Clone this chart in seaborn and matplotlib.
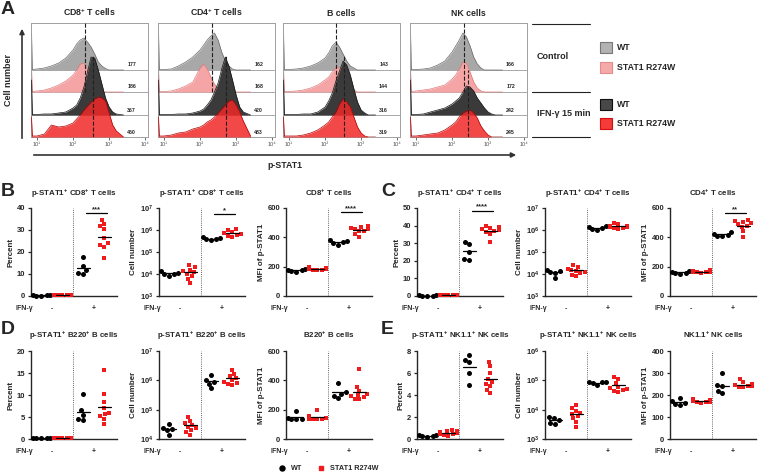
import numpy as np
import pandas as pd
import matplotlib
matplotlib.use('Agg')
import matplotlib.pyplot as plt
import seaborn as sns
from matplotlib.patches import Rectangle

sns.set_style('ticks')
plt.rcParams['font.family'] = ['Liberation Sans', 'DejaVu Sans']
plt.rcParams['font.weight'] = 'bold'
plt.rcParams['axes.titleweight'] = 'bold'
plt.rcParams['axes.labelweight'] = 'bold'
plt.rcParams['mathtext.fontset'] = 'custom'
plt.rcParams['mathtext.rm'] = 'Liberation Sans:bold'
plt.rcParams['mathtext.bf'] = 'Liberation Sans:bold'
plt.rcParams['mathtext.it'] = 'Liberation Sans:bold'

W, H = 760, 474

# ---------------- panel A: p-STAT1 histograms (heights in px) ----------------
hist_x = [7, 7.4, 10, 16, 25, 40, 63, 100, 126, 158, 200, 251, 316, 398, 501, 631, 794, 1000, 1259, 1585, 2512]
hist_cells = ['CD8$^{+}$ T cells', 'CD4$^{+}$ T cells', 'B cells', 'NK cells']

# rows: WT control, R274W control, WT IFN-g, R274W IFN-g
hist_cd8 = [
    [40, 0.5, 1, 2, 4, 7, 12, 20, 26, 30, 32, 28, 23, 16, 8, 4, 1.5, 0, 0, 0, 0],
    [25, 0.5, 1, 2, 4, 7, 11, 17, 22, 28, 29, 22, 13, 5, 1, 0, 0, 0, 0, 0, 0],
    [35, 0.5, 0.5, 1, 1, 2, 3, 7, 10, 17, 28, 43, 58, 57, 45, 31, 17, 8, 3, 1, 0],
    [20, 1, 1, 3, 12, 10, 11, 14, 18, 22, 27, 31, 35, 38, 40, 39, 36, 24, 12, 6, 0],
]
hist_cd4 = [
    [40, 0.5, 0.5, 1, 4, 8, 13, 20, 25, 30, 34, 37, 30, 18, 9, 4, 1, 0, 0, 0, 0],
    [25, 0.5, 0.5, 1, 3, 6, 10, 24, 28, 23, 15, 8, 3, 1, 0, 0, 0, 0, 0, 0, 0],
    [35, 0.5, 0.5, 0.5, 1, 1, 2, 4, 6, 10, 15, 23, 32, 46, 58, 49, 35, 20, 8, 3, 0],
    [20, 1, 1, 2, 4, 5, 8, 10, 12, 15, 17, 20, 24, 28, 32, 36, 37, 32, 25, 16, 1],
]
hist_b = [
    [40, 0.5, 0.5, 1, 2, 4, 7, 12, 17, 24, 28, 23, 16, 9, 4, 2, 0, 0, 0, 0, 0],
    [25, 0.5, 0.5, 1, 2, 4, 7, 12, 15, 20, 24, 25, 22, 13, 7, 2, 0, 0, 0, 0, 0],
    [35, 0.5, 0.5, 0.5, 1, 1, 3, 8, 14, 22, 34, 44, 54, 50, 40, 26, 13, 5, 2, 0, 0],
    [20, 1, 1, 1, 2, 4, 7, 12, 15, 20, 25, 33, 38, 35, 30, 20, 10, 4, 1, 0, 0],
]
hist_nk = [
    [40, 0.5, 0.5, 1, 2, 5, 9, 18, 24, 30, 37, 33, 24, 13, 6, 2, 0, 0, 0, 0, 0],
    [25, 0.5, 1, 2, 3, 5, 7, 13, 17, 23, 30, 29, 20, 10, 4, 1, 0, 0, 0, 0, 0],
    [35, 0.5, 0.5, 1, 3, 5, 7, 11, 14, 17, 23, 29, 28, 24, 17, 12, 7, 3, 1, 0, 0],
    [20, 1, 1, 2, 3, 4, 7, 12, 15, 20, 24, 26, 27, 24, 19, 11, 6, 2, 0, 0, 0],
]
hist_mfi = [['177', '186', '367', '450'], ['162', '168', '420', '483'],
            ['143', '144', '316', '319'], ['166', '172', '242', '245']]
dash_ctrl = [220, 220, 195, 220]
dash_ifn = [355, 525, 330, 280]

# ---------------- panels B-E: dot plots ----------------
ORDER = ['WT-', 'R-', 'WT+', 'R+']

pct_cd8 = {'WT-': [0.3, 0.3, 0.2, 0.2, 0.3], 'R-': [0.5, 0.4, 0.4, 0.5, 0.3, 0.4, 0.5, 0.4, 0.3],
           'WT+': [17.6, 13.5, 11.9, 10.5, 10.0], 'R+': [34.5, 32.7, 31.6, 30.4, 26.3, 24.0, 23.3, 22.5, 17.2]}
num_cd8 = {'WT-': [1.3e4, 1.15e4, 1.05e4, 9.5e3, 8.5e3], 'R-': [2.5e4, 2.0e4, 1.6e4, 1.3e4, 1.2e4, 1.0e4, 8e3, 6e3, 4e3],
           'WT+': [4.8e5, 4.4e5, 4.1e5, 3.8e5, 3.4e5], 'R+': [1.1e6, 9.5e5, 8.5e5, 7.5e5, 7e5, 6.5e5, 6e5, 5.5e5, 5e5]}
mfi_cd8 = {'WT-': [185, 180, 175, 170, 165], 'R-': [195, 190, 188, 185, 182, 180, 178, 176, 185],
           'WT+': [380, 372, 365, 358, 350], 'R+': [480, 470, 465, 460, 455, 445, 440, 420, 405]}

pct_cd4 = {'WT-': [0.3, 0.3, 0.2, 0.2, 0.2], 'R-': [0.4, 0.3, 0.3, 0.4, 0.3, 0.3, 0.4, 0.3, 0.3],
           'WT+': [30.5, 29.5, 25.0, 21.0, 20.5], 'R+': [40, 39, 38.5, 38, 37.5, 37, 36.5, 35.5, 30.5]}
num_cd4 = {'WT-': [1.6e4, 1.3e4, 1.2e4, 1.1e4, 6.5e3], 'R-': [2.5e4, 2.0e4, 1.7e4, 1.5e4, 1.3e4, 1.2e4, 1.1e4, 9e3, 8e3],
           'WT+': [1.5e6, 1.35e6, 1.2e6, 1.1e6, 1.0e6], 'R+': [2.0e6, 1.8e6, 1.6e6, 1.5e6, 1.4e6, 1.3e6, 1.25e6, 1.2e6, 1.1e6]}
mfi_cd4 = {'WT-': [170, 165, 160, 157, 153], 'R-': [175, 172, 170, 168, 166, 165, 163, 162, 160],
           'WT+': [435, 425, 418, 412, 410], 'R+': [520, 510, 505, 495, 490, 480, 470, 440, 405]}

pct_b = {'WT-': [0.2, 0.2, 0.2, 0.15, 0.15], 'R-': [0.3, 0.25, 0.3, 0.2, 0.3, 0.25, 0.3, 0.2, 0.25],
         'WT+': [10.2, 6.5, 5.5, 4.6, 4.3], 'R+': [15.6, 10.3, 8.5, 7.0, 6.0, 5.7, 5.2, 4.6, 3.4]}
num_b = {'WT-': [3.3e4, 2.4e4, 2.2e4, 2.0e4, 1.4e4], 'R-': [5.8e4, 4.2e4, 3.5e4, 3.0e4, 2.6e4, 2.3e4, 2.0e4, 1.7e4, 1.4e4],
         'WT+': [1.5e6, 1.05e6, 8.7e5, 7.5e5, 5.3e5], 'R+': [2.3e6, 1.7e6, 1.4e6, 1.2e6, 1.0e6, 9e5, 8e5, 7.5e5, 7e5]}
mfi_b = {'WT-': [190, 140, 138, 137, 135], 'R-': [198, 155, 145, 142, 140, 138, 137, 136, 135],
         'WT+': [385, 320, 310, 295, 280], 'R+': [480, 355, 330, 310, 300, 295, 285, 275, 270]}

pct_nk = {'WT-': [0.38, 0.35, 0.3, 0.25, 0.18], 'R-': [0.85, 0.75, 0.7, 0.6, 0.55, 0.5, 0.45, 0.35, 0.3],
          'WT+': [7.6, 7.2, 7.0, 6.0, 4.9], 'R+': [7.0, 6.6, 6.0, 5.5, 5.2, 5.0, 4.8, 4.5, 4.2]}
num_nk = {'WT-': [5.5e3, 5.3e3, 4.5e3, 3.5e3, 3.3e3], 'R-': [1.4e4, 1.1e4, 9e3, 8e3, 7e3, 6e3, 5e3, 3.8e3, 2.5e3],
          'WT+': [9e4, 8.8e4, 8.5e4, 8e4, 7e4], 'R+': [1.3e5, 1.1e5, 8e4, 6e4, 5.5e4, 5e4, 4.8e4, 4.5e4, 4e4]}
mfi_nk = {'WT-': [185, 172, 165, 160, 155], 'R-': [180, 177, 175, 173, 172, 170, 168, 167, 163],
          'WT+': [298, 245, 240, 218, 210], 'R+': [272, 258, 250, 246, 244, 242, 240, 238, 235]}


def rect(x0, y0, x1, y1):
    return [x0 / W, 1 - y1 / H, (x1 - x0) / W, (y1 - y0) / H]


fig = plt.figure(figsize=(7.6, 4.74), dpi=100)

# overlay in pixel coordinates for arrows, letters, legends
ov = fig.add_axes([0, 0, 1, 1])
ov.set_xlim(0, W)
ov.set_ylim(H, 0)
ov.axis('off')

for letter, (lx, ly) in zip('ABCDE', [(1, 9), (1, 192), (381, 192), (1, 330), (381, 330)]):
    ov.text(lx, ly, letter, fontsize=14, fontweight='bold', ha='left', va='center')

# ---- panel A ----
fills = ['#a8a8a8', '#f5a5a5', '#3a3a3a', '#f02828']
edges = ['#6a6a6a', '#e07a7a', '#151515', '#b00000']
alphas = [1.0, 1.0, 1.0, 0.85]
row_base = [67, 45, 22, 0]
hist_left = [31, 158, 283, 410]
hist_all = [hist_cd8, hist_cd4, hist_b, hist_nk]

for i in range(4):
    x0 = hist_left[i]
    ax = fig.add_axes(rect(x0, 23, x0 + 117, 137))
    ax.set_xscale('log')
    for row in range(4):
        off = row_base[row]
        y = np.array(hist_all[i][row]) + off
        ax.axhline(off, color='#9a9a9a', lw=0.6, zorder=0.5)
        ax.fill_between(hist_x, off, y, color=fills[row], alpha=alphas[row], lw=0, zorder=row + 1)
        ax.plot(hist_x, y, color=edges[row], lw=0.5, zorder=row + 1)
        ax.text(0.86, off + 5, hist_mfi[i][row], transform=ax.get_yaxis_transform(),
                fontsize=3.8, ha='center', va='center', zorder=10)
    ax.plot([dash_ctrl[i]] * 2, [45, 114], ls='--', color='#202020', lw=0.8, zorder=8)
    top2 = 67 if i == 3 else 82
    ax.plot([dash_ifn[i]] * 2, [0, top2], ls='--', color='#202020', lw=0.8, zorder=8)
    ax.set_xlim(6.8, 12000)
    ax.set_ylim(0, 114)
    ax.set_yticks([])
    for s in ax.spines.values():
        s.set_color('#a0a0a0')
        s.set_linewidth(0.7)
    ax.set_xticks([10, 100, 1000, 10000])
    ax.set_xticklabels(['10¹', '10²', '10³', '10⁴'], fontsize=4, fontweight='normal')
    ax.tick_params(axis='x', which='major', length=2.5, width=0.6, pad=1, colors='#555555')
    ax.tick_params(axis='x', which='minor', length=1.5, width=0.4, colors='#555555')
    ax.set_title(hist_cells[i], fontsize=6.3, pad=5)

# axis arrows for panel A
ov.annotate('', xy=(22, 26), xytext=(22, 141),
            arrowprops=dict(arrowstyle='-|>', color='#333333', lw=1.2, mutation_scale=7))
ov.text(9, 80, 'Cell number', rotation=90, fontsize=6.5, ha='center', va='center')
ov.annotate('', xy=(519, 155), xytext=(31, 155),
            arrowprops=dict(arrowstyle='-|>', color='#333333', lw=1.2, mutation_scale=7))
ov.text(267, 165, 'p-STAT1', fontsize=6.3, ha='left', va='center')

for yy in [24, 92, 137]:
    ov.plot([532, 590], [yy, yy], color='#222222', lw=0.8)
ov.text(537, 56, 'Control', fontsize=6.5, va='center')
ov.text(537, 113, 'IFN-γ 15 min', fontsize=6.5, va='center')
leg_y = [47, 67, 104, 123]
leg_lab = ['WT', 'STAT1 R274W', 'WT', 'STAT1 R274W']
leg_edge = ['#777777', '#e58a8a', '#111111', '#d01010']
leg_fill = ['#b2b2b2', '#f5aaaa', '#484848', '#f53a3a']
for yy, lab, fc, ec in zip(leg_y, leg_lab, leg_fill, leg_edge):
    ov.add_patch(Rectangle((600, yy - 5.5), 12, 11, facecolor=fc, edgecolor=ec, lw=0.8))
    ov.text(617, yy, lab, fontsize=6.3, va='center')

# ---- panels B-E ----
panels = [
    (31, 208, 'p-STAT1$^{+}$ CD8$^{+}$ T cells', pct_cd8, 'Percent', (0, 40), [0, 10, 20, 30, 40], False, '***', 37.5),
    (159, 208, 'p-STAT1$^{+}$ CD8$^{+}$ T cells', num_cd8, 'Cell number', (1e3, 1e7), [1e3, 1e4, 1e5, 1e6, 1e7], True, '*', 5.4e6),
    (286, 208, 'CD8$^{+}$ T cells', mfi_cd8, 'MFI of p-STAT1', (0, 600), [0, 200, 400, 600], False, '****', 573),
    (417, 208, 'p-STAT1$^{+}$ CD4$^{+}$ T cells', pct_cd4, 'Percent', (0, 50), [0, 10, 20, 30, 40, 50], False, '****', 48.5),
    (545, 208, 'p-STAT1$^{+}$ CD4$^{+}$ T cells', num_cd4, 'Cell number', (1e3, 1e7), [1e3, 1e4, 1e5, 1e6, 1e7], True, None, None),
    (670, 208, 'CD4$^{+}$ T cells', mfi_cd4, 'MFI of p-STAT1', (0, 600), [0, 200, 400, 600], False, '**', 566),
    (31, 351, 'p-STAT1$^{+}$ B220$^{+}$ B cells', pct_b, 'Percent', (0, 20), [0, 5, 10, 15, 20], False, None, None),
    (159, 351, 'p-STAT1$^{+}$ B220$^{+}$ B cells', num_b, 'Cell number', (1e4, 1e7), [1e4, 1e5, 1e6, 1e7], True, None, None),
    (286, 351, 'B220$^{+}$ B cells', mfi_b, 'MFI of p-STAT1', (0, 600), [0, 200, 400, 600], False, None, None),
    (417, 351, 'p-STAT1$^{+}$ NK1.1$^{+}$ NK cells', pct_nk, 'Percent', (0, 8), [0, 2, 4, 6, 8], False, None, None),
    (545, 351, 'p-STAT1$^{+}$ NK1.1$^{+}$ NK cells', num_nk, 'Cell number', (1e3, 1e6), [1e3, 1e4, 1e5, 1e6], True, None, None),
    (670, 351, 'NK1.1$^{+}$ NK cells', mfi_nk, 'MFI of p-STAT1', (0, 400), [0, 100, 200, 300, 400], False, None, None),
]

for (x0, y0, title, data, ylab, ylim, yticks, logy, stars, star_y) in panels:
    ax = fig.add_axes(rect(x0, y0, x0 + 86, y0 + 88))
    if logy:
        ax.set_yscale('log')
    df = pd.DataFrame([(g, v) for g in ORDER for v in data[g]], columns=['grp', 'val'])
    wt = df[df['grp'].str.startswith('WT')]
    mut = df[df['grp'].str.startswith('R')]
    sns.swarmplot(data=wt, x='grp', y='val', order=ORDER, color='black', marker='o',
                  size=3.6, linewidth=0, ax=ax, clip_on=False, warn_thresh=1, zorder=3)
    sns.swarmplot(data=mut, x='grp', y='val', order=ORDER, color='#ee1c1c', marker='s',
                  size=3.3, linewidth=0, ax=ax, clip_on=False, warn_thresh=1, zorder=3)
    for k, g in enumerate(ORDER):
        m = np.mean(data[g])
        ax.plot([k - 0.3, k + 0.3], [m, m], color='black', lw=0.9, zorder=4)
    ax.axvline(1.5, color='#666666', lw=0.7, ls=(0, (1, 1.2)), zorder=1)
    if stars:
        ax.plot([2.1, 3.1], [star_y, star_y], color='black', lw=0.9, clip_on=False)
        ax.text(2.6, star_y, stars, ha='center', va='bottom', fontsize=5.5, fontweight='bold')
    ax.set_xlim(-0.5, 3.6)
    ax.set_ylim(*ylim)
    ax.set_yticks(yticks)
    ax.minorticks_off()
    ax.set_xticks([])
    ax.set_xlabel('')
    ax.set_ylabel(ylab, fontsize=5.8, labelpad=2)
    ax.set_title(title, fontsize=5.7, pad=9)
    sns.despine(ax=ax)
    ax.spines['left'].set_linewidth(1.0)
    ax.spines['bottom'].set_linewidth(1.0)
    ax.tick_params(axis='y', length=2.5, width=0.9, labelsize=5.5, pad=1.5)
    tr = ax.get_xaxis_transform()
    ax.text(-0.4, -0.14, 'IFN-γ', transform=tr, ha='right', va='center', fontsize=5)
    ax.text(0.5, -0.14, '-', transform=tr, ha='center', va='center', fontsize=5)
    ax.text(2.5, -0.14, '+', transform=tr, ha='center', va='center', fontsize=5)

# bottom legend
ov.plot(282, 468, 'o', color='black', ms=3.6)
ov.text(291, 468, 'WT', fontsize=5.2, va='center')
ov.plot(321, 468, 's', color='#ee1c1c', ms=3.4)
ov.text(330, 468, 'STAT1 R274W', fontsize=5.2, va='center')

fig.savefig('out.png', dpi=100)
